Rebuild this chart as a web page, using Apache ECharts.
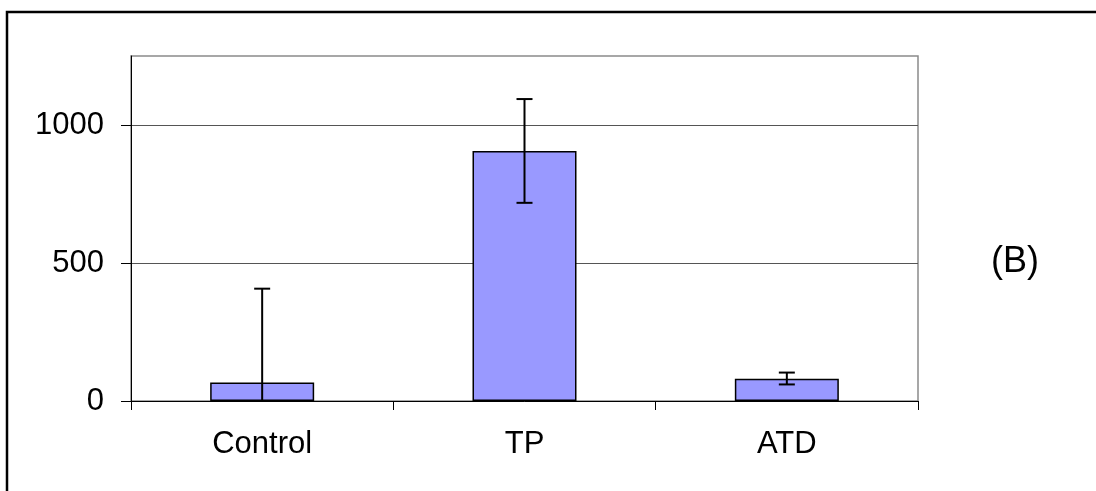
<!DOCTYPE html>
<html>
<head>
<meta charset="utf-8">
<script src="https://cdn.jsdelivr.net/npm/echarts@6/dist/echarts.min.js"></script>
<style>
  html, body { margin: 0; padding: 0; background: #fff; }
  #chart { width: 1096px; height: 491px; }
</style>
</head>
<body>
<div id="chart"></div>
<script>
// Group means and their error-bar bounds
const categories = ['Control', 'TP', 'ATD'];
const means = [67, 906, 81];
const upperBounds = [407, 1094, 103];
const lowerBounds = [-273, 718, 60];
const yTicks = [0, 500, 1000];
const panelTag = '(B)';

const FONT = '"Liberation Sans", Arial, sans-serif';
const chart = echarts.init(document.getElementById('chart'), null, { renderer: 'canvas' });

const errorData = categories.map((c, i) => [i, means[i], upperBounds[i], lowerBounds[i]]);

chart.setOption({
  animation: false,
  backgroundColor: '#ffffff',
  graphic: [
    {
      type: 'rect',
      shape: { x: 7, y: 12, width: 1300, height: 700 },
      style: { fill: 'none', stroke: '#000', lineWidth: 2.5 },
      silent: true
    },
    {
      type: 'text',
      left: 991,
      top: 244,
      style: { text: panelTag, font: '36px ' + FONT, fill: '#000' }
    }
  ],
  grid: {
    left: 131, top: 56, right: 178, bottom: 90,
    show: true, borderColor: '#8a8a8a', borderWidth: 1.5, backgroundColor: 'transparent'
  },
  xAxis: {
    type: 'category',
    data: categories,
    boundaryGap: true,
    axisLine: { lineStyle: { color: '#000', width: 1 } },
    axisTick: { show: true, alignWithLabel: false, length: 9, lineStyle: { color: '#000' } },
    axisLabel: { color: '#000', fontSize: 31, fontFamily: FONT, margin: 28 },
    splitLine: { show: false }
  },
  yAxis: {
    type: 'value',
    min: 0, max: 1250, interval: 500,
    axisLine: { show: true, lineStyle: { color: '#000', width: 1 } },
    axisTick: { show: true, length: 10, lineStyle: { color: '#000' }, customValues: yTicks },
    axisLabel: {
      color: '#000', fontSize: 31, fontFamily: FONT, margin: 27, customValues: yTicks,
      formatter: function (v) { return String(v); }
    },
    splitLine: { show: true, lineStyle: { color: '#555', width: 1 } }
  },
  series: [
    {
      type: 'bar',
      data: means,
      barWidth: 104,
      itemStyle: { color: '#9999FF', borderColor: '#000', borderWidth: 1.5 },
      z: 2
    },
    {
      type: 'custom',
      data: errorData,
      z: 5,
      encode: { x: 0, y: [1, 2, 3] },
      renderItem: function (params, api) {
        const i = api.value(0);
        const hi = api.value(2);
        const lo = Math.max(0, api.value(3));
        const top = api.coord([i, hi]);
        const bot = api.coord([i, lo]);
        const cap = 8;
        const style = { stroke: '#000', lineWidth: 2, fill: null };
        const children = [
          { type: 'line', shape: { x1: top[0], y1: top[1], x2: bot[0], y2: bot[1] }, style: style },
          { type: 'line', shape: { x1: top[0] - cap, y1: top[1], x2: top[0] + cap, y2: top[1] }, style: style }
        ];
        if (api.value(3) > 0) {
          children.push({ type: 'line', shape: { x1: bot[0] - cap, y1: bot[1], x2: bot[0] + cap, y2: bot[1] }, style: style });
        }
        return { type: 'group', children: children };
      }
    }
  ]
});
</script>
</body>
</html>
